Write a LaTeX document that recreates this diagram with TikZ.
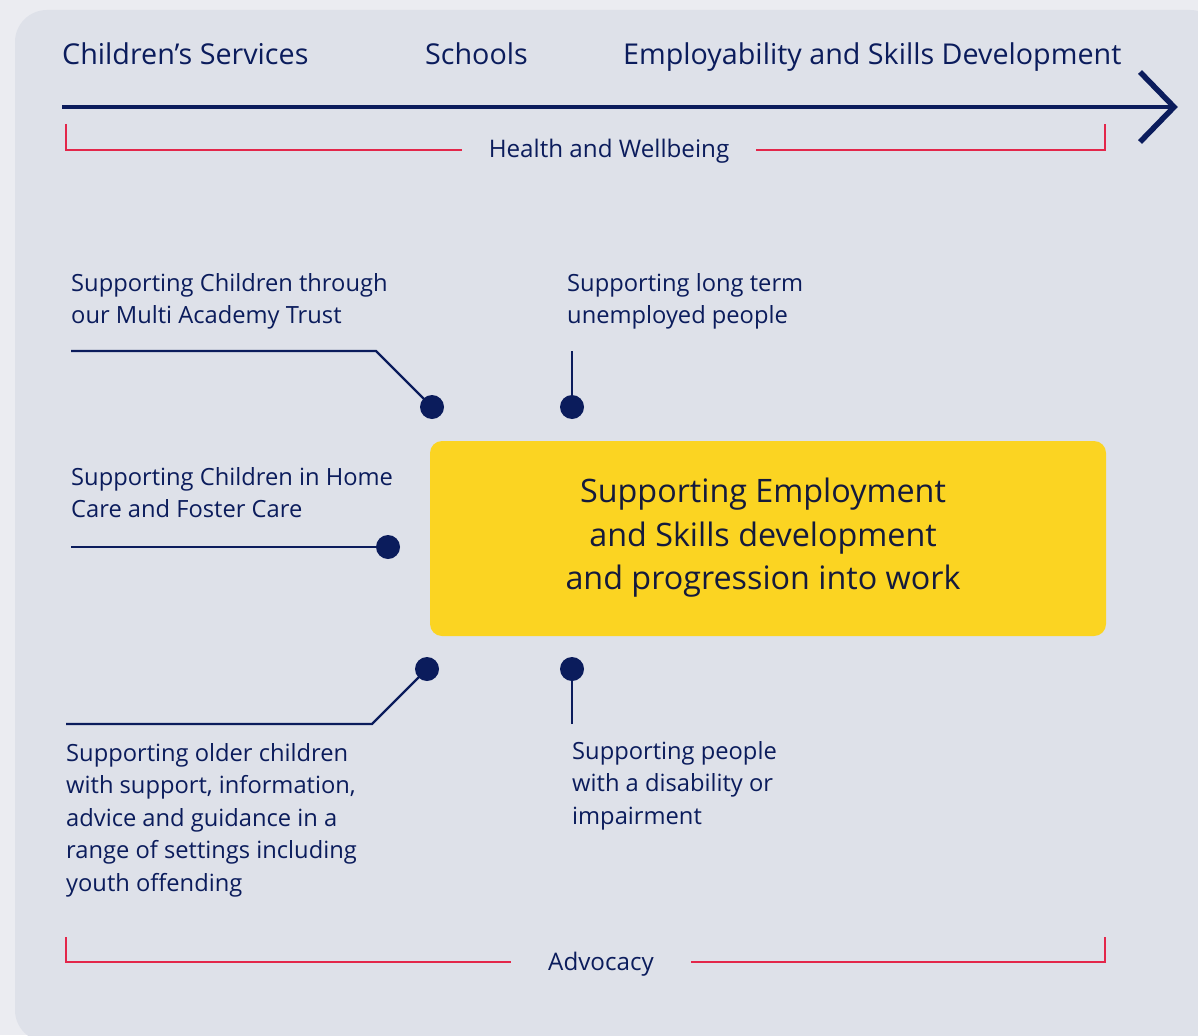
\documentclass[tikz,border=0pt]{standalone}
\usepackage{fontspec}
\setmainfont{Open Sans}
\definecolor{navy}{HTML}{0B1C5C}
\definecolor{deepnavy}{HTML}{141A3C}
\definecolor{brred}{HTML}{E3264A}
\definecolor{gold}{HTML}{FBD422}
\definecolor{panel}{HTML}{DEE1E9}
\definecolor{outer}{HTML}{EBECF1}
\tikzset{
  lbl/.style={anchor=base west, inner sep=0pt, text=navy, font=\fontsize{23.7}{32.5}\selectfont, align=left},
  head/.style={anchor=base west, inner sep=0pt, text=navy, font=\fontsize{28.7}{32}\selectfont},
  brk/.style={draw=brred, line width=2.6pt},
  brktxt/.style={inner ysep=0pt, text=navy, font=\fontsize{24.2}{28}\selectfont},
  dotnode/.style={circle, fill=navy, inner sep=0pt, minimum size=24pt},
  conn/.style={draw=navy, line width=2.2pt},
}
\begin{document}
\begin{tikzpicture}[x=1pt,y=-1pt]
\useasboundingbox (0,0) rectangle (1198,1035);
\fill[outer] (0,0) rectangle (1198,1035);
\begin{scope}
\clip (0,0) rectangle (1198,1035);
\fill[panel, rounded corners=32pt] (15,10) rectangle (1222,1042);
\end{scope}

% header
\node[head] (cs) at (62,65) {Children’s Services};
\node[head] (sc) at (425,65) {Schools};
\node[head] (es) at (623,65) {Employability and Skills Development};

% timeline arrow
\coordinate (as) at (62,107);
\coordinate (ae) at (1174,107);
\draw[navy, line width=4.5pt] (as) -- (ae);
\draw[navy, line width=5.5pt, line join=miter] (1140,72) -- (ae) -- (1140,142);

% health bracket
\coordinate (hwl) at (66,124);
\coordinate (hwr) at (1105,124);
\node[brktxt, inner xsep=27pt, anchor=base] (hw) at (609,158) {Health and Wellbeing};
\draw[brk] (hwl) |- (462,150);
\draw[brk] (756,150) -| (hwr);

% advocacy bracket
\coordinate (avl) at (66,937);
\coordinate (avr) at (1105,937);
\node[brktxt, inner xsep=37pt, anchor=base] (adv) at (601,970) {Advocacy};
\draw[brk] (avl) |- (adv.west |- 0,962);
\draw[brk] (adv.east |- 0,962) -| (avr);

% central box
\node[fill=gold, rounded corners=12pt, minimum width=676pt, minimum height=195pt, inner sep=0pt] (box) at (768,538.5) {};
\node[text=deepnavy, align=center, font=\fontsize{32.3}{43.5}\selectfont, inner sep=0pt] (boxtxt) at (763,538)
  {Supporting Employment\\and Skills development\\and progression into work};

% labels (anchor = baseline of last line)
\node[lbl] (t1) at (71,323.5) {Supporting Children through\\our Multi Academy Trust};
\node[lbl] (t2) at (567,323.5) {Supporting long term\\unemployed people};
\node[lbl] (t3) at (71,517.5) {Supporting Children in Home\\Care and Foster Care};
\node[lbl] (t4) at (66,891) {Supporting older children\\with support, information,\\advice and guidance in a\\range of settings including\\youth offending};
\node[lbl] (t5) at (572,824) {Supporting people\\with a disability or\\impairment};

% dots
\node[dotnode] (d1) at (432,407) {};
\node[dotnode] (d2) at (572,407) {};
\node[dotnode] (d3) at (388,547) {};
\node[dotnode] (d4) at (427,669) {};
\node[dotnode] (d5) at (572,669) {};

% connectors
\coordinate (c1) at (71,351);
\coordinate (c2) at (572,351);
\coordinate (c3) at (71,547);
\coordinate (c4) at (66,724);
\coordinate (c5) at (572,724);
\draw[conn] (c1) -- (376,351) -- (d1.center);
\draw[conn] (c2) -- (d2.center);
\draw[conn] (c3) -- (d3.center);
\draw[conn] (c4) -- (372,724) -- (d4.center);
\draw[conn] (c5) -- (d5.center);
\end{tikzpicture}
\end{document}
